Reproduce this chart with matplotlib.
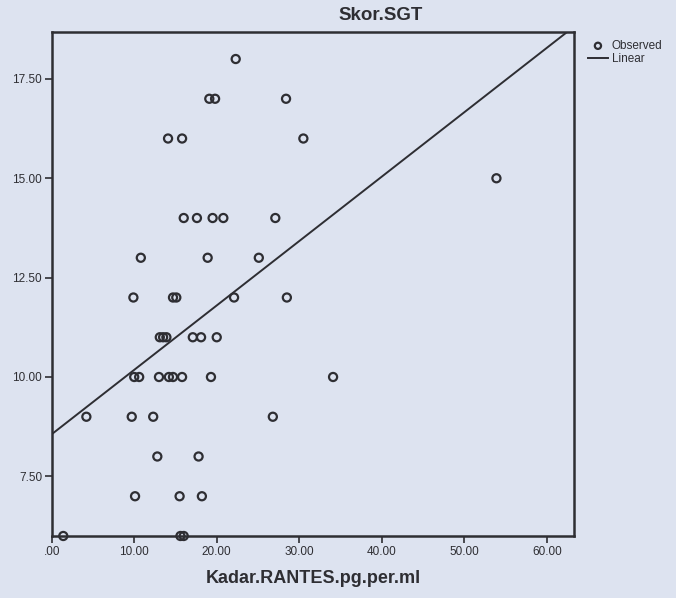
import matplotlib.pyplot as plt
import numpy as np

plt.rcParams['font.family'] = ['Liberation Sans', 'DejaVu Sans']

# Kadar.RANTES (pg/ml) vs Skor.SGT
rantes = [22.3,
          19.1, 19.8, 28.4,
          14.1, 15.8, 30.5,
          53.9,
          16.0, 17.6, 19.5, 20.8, 27.1,
          10.8, 18.9, 25.1,
          9.9, 14.7, 15.1, 22.1, 28.5,
          13.1, 13.5, 13.9, 17.1, 18.1, 20.0,
          10.0, 10.6, 13.0, 14.2, 14.7, 15.8, 19.3, 34.1,
          4.2, 9.7, 12.3, 26.8,
          12.8, 17.8,
          10.1, 15.5, 18.2,
          1.4, 15.6, 16.0]
sgt = [18,
       17, 17, 17,
       16, 16, 16,
       15,
       14, 14, 14, 14, 14,
       13, 13, 13,
       12, 12, 12, 12, 12,
       11, 11, 11, 11, 11, 11,
       10, 10, 10, 10, 10, 10, 10, 10,
       9, 9, 9, 9,
       8, 8,
       7, 7, 7,
       6, 6, 6]

fit_intercept = 8.56
fit_slope = 0.162

x_ticks = [0, 10, 20, 30, 40, 50, 60]
x_ticklabels = ['.00', '10.00', '20.00', '30.00', '40.00', '50.00', '60.00']
y_ticks = [7.5, 10, 12.5, 15, 17.5]
y_ticklabels = ['7.50', '10.00', '12.50', '15.00', '17.50']

bg = '#dde3f0'
ink = '#2e2e33'

fig = plt.figure(figsize=(6.76, 5.98), dpi=100, facecolor=bg)
ax = fig.add_axes([0.0765, 0.1037, 0.7726, 0.8428], facecolor=bg)

xmin, xmax = 0, 63.3
ymin, ymax = 6.0, 18.68

xs = np.array([xmin, xmax])
line, = ax.plot(xs, fit_intercept + fit_slope * xs, color=ink, lw=1.4, zorder=2)
pts = ax.scatter(rantes, sgt, s=34, facecolors='none', edgecolors=ink, linewidths=1.6,
                 zorder=3, clip_on=False)

ax.set_xlim(xmin, xmax)
ax.set_ylim(ymin, ymax)
ax.set_xticks(x_ticks)
ax.set_xticklabels(x_ticklabels)
ax.set_yticks(y_ticks)
ax.set_yticklabels(y_ticklabels)
ax.tick_params(direction='out', length=5, width=1.2, colors=ink, labelsize=8.5, pad=2)
for s in ax.spines.values():
    s.set_color(ink)
    s.set_linewidth(1.8)

ax.set_xlabel('Kadar.RANTES.pg.per.ml', fontsize=13, fontweight='bold', color=ink, labelpad=9)
fig.text(381 / 676, 1 - 16 / 598, 'Skor.SGT', fontsize=13.5, fontweight='bold',
         color=ink, ha='center', va='center')

leg = fig.legend([pts, line], ['Observed', 'Linear'],
                 loc='upper left', bbox_to_anchor=(582 / 676, 1 - 34 / 598), frameon=False,
                 fontsize=8.5, handlelength=1.7, handletextpad=0.3, borderpad=0,
                 labelspacing=0.1, labelcolor=ink)
leg.legend_handles[0].set_sizes([20])

fig.savefig('out.png', dpi=100, facecolor=bg)
